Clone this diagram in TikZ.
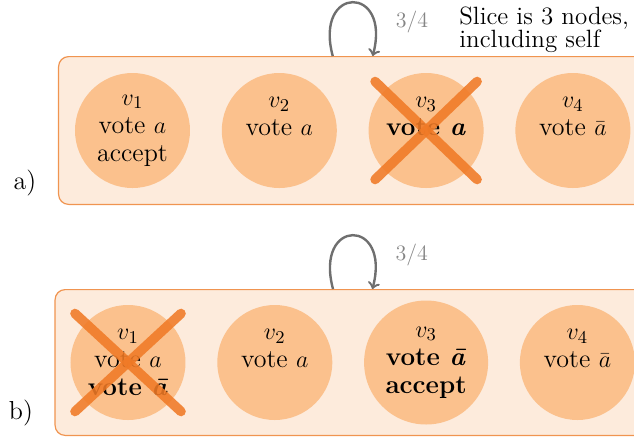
\documentclass[tikz,border=0pt]{standalone}
\usepackage{tikz}
\usetikzlibrary{positioning,fit,backgrounds,calc}

\definecolor{panelfill}{HTML}{FDEBDC}
\definecolor{panelline}{HTML}{F09450}
\definecolor{vtxfill}{HTML}{FBC18D}
\definecolor{crossc}{HTML}{F07A26}
\definecolor{loopgray}{HTML}{6F6F6F}

\tikzset{
vtx/.style={circle,fill=vtxfill,inner sep=0pt,minimum size=57.5pt,align=center,
  font=\fontsize{13}{14}\selectfont},
panel/.style={draw=panelline,fill=panelfill,rounded corners=5pt,line width=0.6pt},
killed/.style={draw=crossc,line width=4.8pt,line cap=round,opacity=0.88},
selfloop/.style={draw=loopgray,line width=1.2pt,->},
loopnum/.style={text=loopgray!85,font=\fontsize{11}{12}\selectfont},
}

\begin{document}
\begin{tikzpicture}[x=0.5pt,y=-0.5pt,node distance=15.5pt]
\useasboundingbox (0,0) rectangle (634,436);
\clip (0,0) rectangle (634,436);
% a) v3 is faulty
\node[vtx] (a1) at (132.5,130.5) {$v_1$\\vote $a$\\accept};
\node[vtx,right=of a1] (a2) {$v_2$\\vote $a$\\\mbox{}};
\node[vtx,right=of a2] (a3) {$v_3$\\\textbf{vote \textit{a}}\\\mbox{}};
\node[vtx,right=of a3] (a4) {$v_4$\\vote $\bar a$\\\mbox{}};
\draw[killed] ($(a3)+(-51,-49)$) -- ($(a3)+(51,49)$);
\draw[killed] ($(a3)+(51,-49)$) -- ($(a3)+(-51,49)$);
\begin{scope}[on background layer]
\node[panel,fit=(a1)(a4),inner sep=8pt] (boxa) {};
\end{scope}
\draw[selfloop] (boxa.105) to[out=105,in=75,distance=37pt]
  node[loopnum,pos=0.8,right=7pt] (qa) {3/4} (boxa.75);
\node[anchor=north west,inner sep=0pt,align=left,
  font=\fontsize{12.5}{11.5}\selectfont] (slice) at (459,6) {Slice is 3 nodes,\\including self};
\node[font=\fontsize{13}{14}\selectfont] (la) at (25,183) {a)};
% b) v1 is faulty
\node[vtx] (b1) at (128,362.5) {$v_1$\\vote $a$\\\textbf{vote \textit{\=a}}};
\node[vtx,right=of b1] (b2) {$v_2$\\vote $a$\\\mbox{}};
\node[vtx,minimum size=62pt,right=of b2] (b3) {$v_3$\\\textbf{vote \textit{\=a}}\\\textbf{accept}};
\node[vtx,right=of b3] (b4) {$v_4$\\vote $\bar a$\\\mbox{}};
\draw[killed] ($(b1)+(-53,-49)$) -- ($(b1)+(53,49)$);
\draw[killed] ($(b1)+(53,-49)$) -- ($(b1)+(-53,49)$);
\begin{scope}[on background layer]
\node[panel,fit=(b1)(b4),inner sep=7.5pt] (boxb) {};
\end{scope}
\draw[selfloop] (boxb.105) to[out=105,in=75,distance=37pt]
  node[loopnum,pos=0.8,right=7pt] (qb) {3/4} (boxb.75);
\node[font=\fontsize{13}{14}\selectfont] (lb) at (21,413) {b)};
\end{tikzpicture}
\end{document}
